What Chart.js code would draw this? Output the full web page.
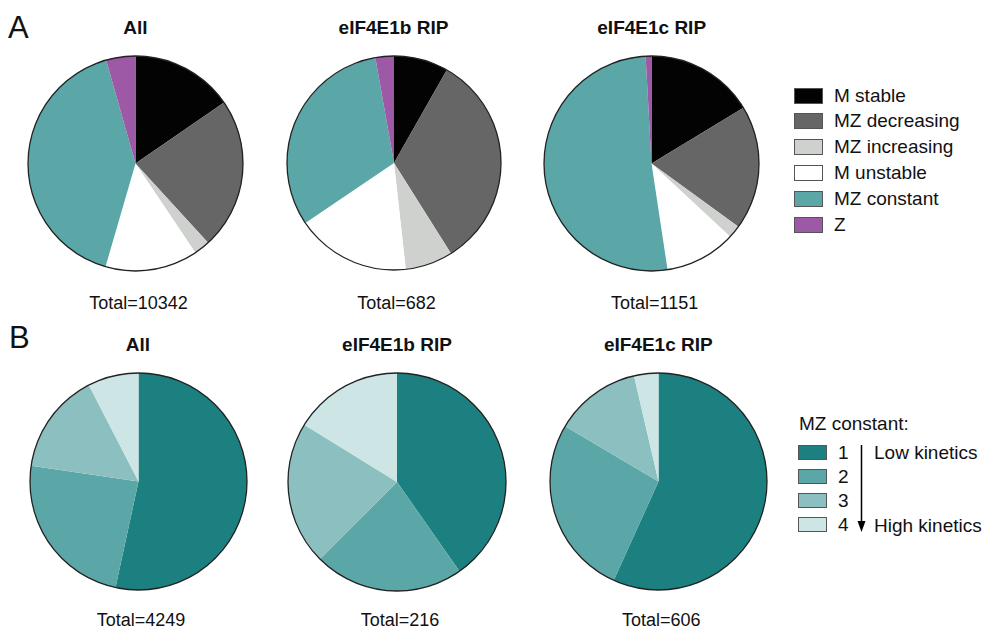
<!DOCTYPE html>
<html>
<head>
<meta charset="utf-8">
<script src="https://cdn.jsdelivr.net/npm/chart.js@4"></script>
<style>
  html, body { margin:0; padding:0; background:#fff; }
  body { width:984px; height:630px; position:relative; overflow:hidden;
         font-family:"Liberation Sans", Arial, Helvetica, sans-serif; color:#111; }
  .abs { position:absolute; }
  .panel { font-size:31px; line-height:1; }
  .title { font-size:19px; font-weight:bold; transform:translateX(-50%); white-space:nowrap; line-height:1; }
  .total { font-size:18px; transform:translateX(-50%); white-space:nowrap; line-height:1; }
  .leg { font-size:19px; line-height:1; white-space:nowrap; }
  .box { position:absolute; border:1.5px solid #555; box-sizing:border-box; }
</style>
</head>
<body>
<div class="abs panel" style="left:8px;top:12px;">A</div>
<div class="abs panel" style="left:9px;top:322px;">B</div>
<div id="texts"></div>
<div id="legends"></div>
<svg class="abs" style="left:852px;top:440px;" width="20" height="100">
  <line x1="9.5" y1="5" x2="9.5" y2="88" stroke="#000" stroke-width="1.5"/>
  <polygon points="5.5,81 13.5,81 9.5,92" fill="#000"/>
</svg>
<script>
// ---------- data ----------
const chartTitles = ["All", "eIF4E1b RIP", "eIF4E1c RIP"];

const classLabels = ["M stable", "MZ decreasing", "MZ increasing", "M unstable", "MZ constant", "Z"];
const classAll   = [1593, 2358, 248, 1438, 4249, 456];
const classE1b   = [56, 224, 49, 118, 216, 19];
const classE1c   = [188, 215, 22, 123, 593, 10];
const classColors = ["#030303", "#666666", "#cfd1cf", "#ffffff", "#5ba7a7", "#9d59a5"];

const kinLabels = ["1", "2", "3", "4"];
const kinAll = [2269, 1016, 642, 322];
const kinE1b = [87, 48, 46, 35];
const kinE1c = [344, 162, 78, 22];
const kinColors = ["#1c8080", "#5ba7a7", "#8cc0c0", "#cde5e5"];

// ---------- layout (positions only) ----------
const pies = [
  {id:"a1", cx:135.5, cy:163, r:107.5, data:classAll, labels:classLabels, colors:classColors, title:0, ty:18, tot:"Total=10342", toty:294},
  {id:"a2", cx:393.5, cy:163, r:107,   data:classE1b, labels:classLabels, colors:classColors, title:1, ty:18, tot:"Total=682",   toty:294},
  {id:"a3", cx:651.7, cy:163, r:107.3, data:classE1c, labels:classLabels, colors:classColors, title:2, ty:18, tot:"Total=1151",  toty:294},
  {id:"b1", cx:138,   cy:481, r:108.5, data:kinAll,   labels:kinLabels,   colors:kinColors,   title:0, ty:335, tot:"Total=4249", toty:611},
  {id:"b2", cx:397,   cy:482, r:109,   data:kinE1b,   labels:kinLabels,   colors:kinColors,   title:1, ty:335, tot:"Total=216",  toty:611},
  {id:"b3", cx:658.3, cy:481, r:108.3, data:kinE1c,   labels:kinLabels,   colors:kinColors,   title:2, ty:335, tot:"Total=606",  toty:611}
];

const outline = {
  id: "outline",
  afterDatasetsDraw(chart) {
    const arc = chart.getDatasetMeta(0).data[0];
    if (!arc) return;
    const ctx = chart.ctx;
    ctx.save();
    ctx.beginPath();
    ctx.arc(arc.x, arc.y, arc.outerRadius, 0, Math.PI * 2);
    ctx.lineWidth = 1.3;
    ctx.strokeStyle = "#222";
    ctx.stroke();
    ctx.restore();
  }
};

const texts = document.getElementById("texts");
pies.forEach(p => {
  const pad = 2;
  const size = Math.round(2 * p.r + 2 * pad);
  const cv = document.createElement("canvas");
  cv.width = size; cv.height = size;
  cv.style.position = "absolute";
  cv.style.left = (p.cx - size / 2) + "px";
  cv.style.top = (p.cy - size / 2) + "px";
  cv.style.width = size + "px"; cv.style.height = size + "px";
  document.body.appendChild(cv);
  new Chart(cv, {
    type: "pie",
    data: { labels: p.labels, datasets: [{ data: p.data, backgroundColor: p.colors, borderWidth: 0, hoverOffset: 0 }] },
    options: {
      responsive: false, animation: false, events: [],
      layout: { padding: pad },
      plugins: { legend: { display: false }, tooltip: { enabled: false }, title: { display: false } }
    },
    plugins: [outline]
  });
  const t = document.createElement("div");
  t.className = "abs title";
  t.style.left = p.cx + "px"; t.style.top = p.ty + "px";
  t.textContent = chartTitles[p.title];
  texts.appendChild(t);
  const s = document.createElement("div");
  s.className = "abs total";
  s.style.left = (p.cx + 3) + "px"; s.style.top = p.toty + "px";
  s.textContent = p.tot;
  texts.appendChild(s);
});

// ---------- legends ----------
const legends = document.getElementById("legends");
classLabels.forEach((lab, i) => {
  const y = 95 + i * 25.85;
  const b = document.createElement("div");
  b.className = "box";
  b.style.cssText = `left:794px;top:${y - 7.5}px;width:29px;height:16px;background:${classColors[i]};`;
  legends.appendChild(b);
  const t = document.createElement("div");
  t.className = "abs leg";
  t.style.left = "834px"; t.style.top = (y - 9.5) + "px";
  t.textContent = lab;
  legends.appendChild(t);
});
const kh = document.createElement("div");
kh.className = "abs leg";
kh.style.left = "799px"; kh.style.top = "413.5px";
kh.textContent = "MZ constant:";
legends.appendChild(kh);
kinLabels.forEach((lab, i) => {
  const y = 452.3 + i * 24.2;
  const b = document.createElement("div");
  b.className = "box";
  b.style.cssText = `left:798px;top:${y - 7.5}px;width:29px;height:15px;background:${kinColors[i]};`;
  legends.appendChild(b);
  const t = document.createElement("div");
  t.className = "abs leg";
  t.style.left = "838px"; t.style.top = (y - 9.5) + "px";
  t.textContent = lab;
  legends.appendChild(t);
});
const kinNotes = [["Low kinetics", 452.3], ["High kinetics", 525]];
kinNotes.forEach(([txt, y]) => {
  const t = document.createElement("div");
  t.className = "abs leg";
  t.style.left = "874px"; t.style.top = (y - 9.5) + "px";
  t.textContent = txt;
  legends.appendChild(t);
});
</script>
</body>
</html>
